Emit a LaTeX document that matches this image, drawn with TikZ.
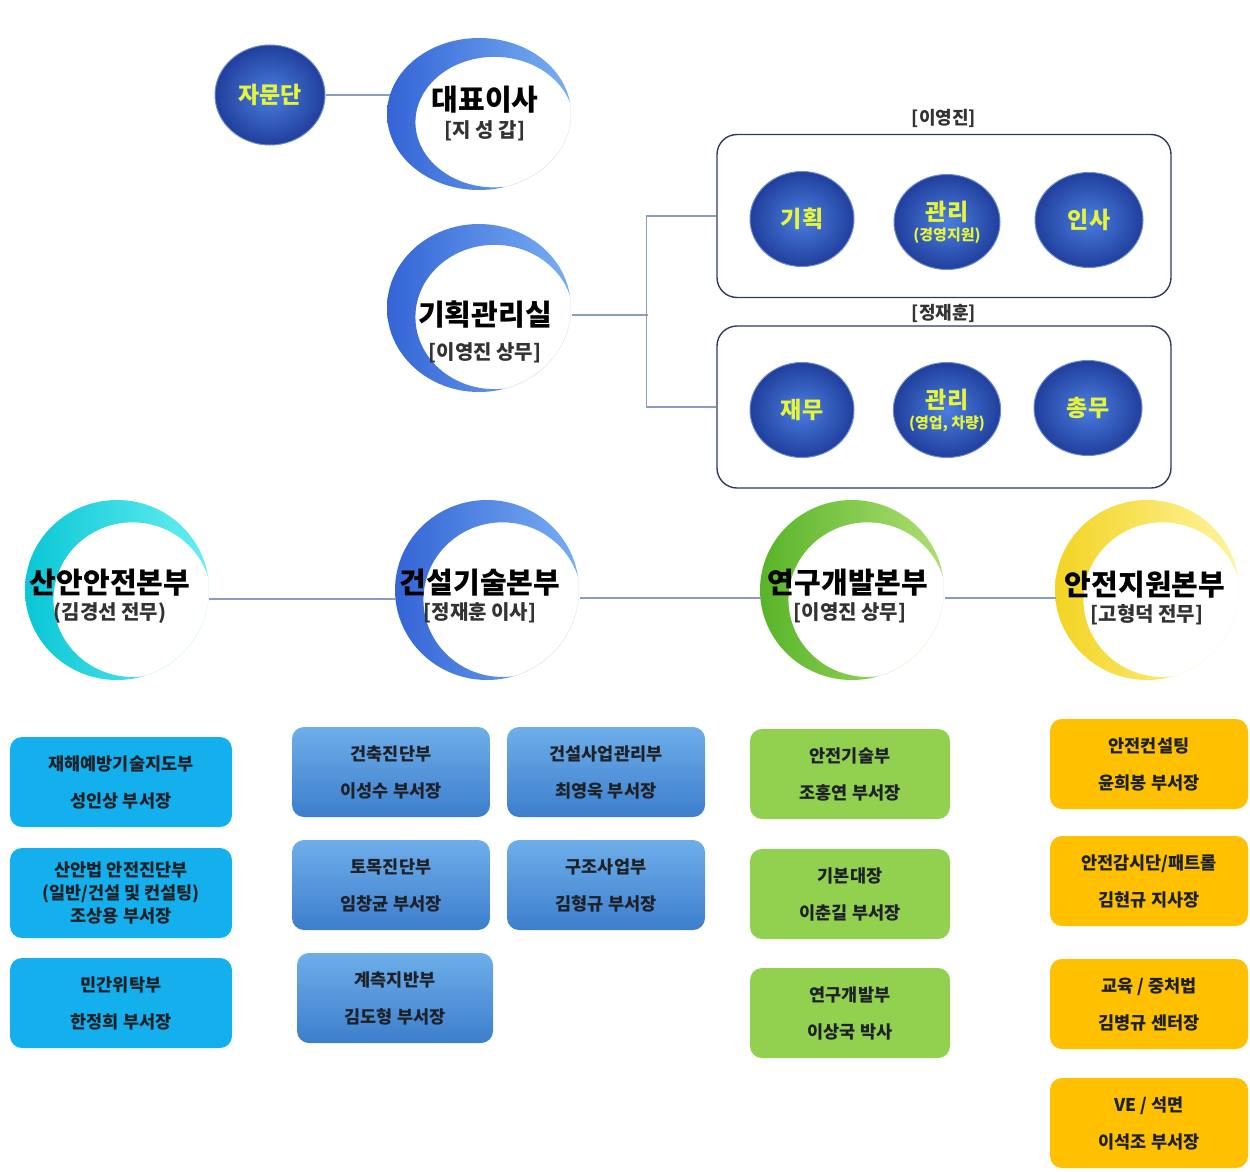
\documentclass[tikz,border=0pt]{standalone}
\usepackage{fontspec}
\setmainfont{Noto Sans CJK KR}
\usetikzlibrary{shapes.geometric}
\definecolor{sphIn}{HTML}{4A7EE0}
\definecolor{sphOut}{HTML}{213F9C}
\definecolor{sphRim}{HTML}{6A88D8}
\definecolor{sphText}{HTML}{E6F53C}
\definecolor{connC}{HTML}{8C9CC0}
\definecolor{grpC}{HTML}{2E3A66}
\definecolor{txtDark}{HTML}{1E2228}
\definecolor{cyanBox}{HTML}{14B0EE}
\definecolor{blueTop}{HTML}{6EAEEA}
\definecolor{blueBot}{HTML}{3C7ECC}
\definecolor{greenBox}{HTML}{92D050}
\definecolor{orangeBox}{HTML}{FFC000}
\definecolor{mBlueA}{HTML}{3464D6}
\definecolor{mBlueB}{HTML}{78B0F2}
\definecolor{mCyanA}{HTML}{0AC6D6}
\definecolor{mCyanB}{HTML}{6AF0F2}
\definecolor{mGreenA}{HTML}{58B428}
\definecolor{mGreenB}{HTML}{B0E074}
\definecolor{mYelA}{HTML}{F2D422}
\definecolor{mYelB}{HTML}{FFF5A0}
\newcommand{\sphsubfont}{\fontsize{15}{17}\selectfont}
\newcommand{\moonshape}[6]{%
  \begin{scope}[shift={(#1,#2)},xscale=#3,yscale=#4]
    \begin{scope}
      \clip (0,0) circle (1);
      \shade[even odd rule,left color=#5,right color=#6] (0,0) circle (1) (0.168,0.107) circle (0.859);
    \end{scope}
  \end{scope}}
\begin{document}
\begin{tikzpicture}[x=1pt,y=-1pt,
  sphere/.style={ellipse,inner sep=0pt,minimum width=106,minimum height=96,
    inner color=sphIn,outer color=sphOut,draw=sphRim,line width=1pt,text=sphText,
    font=\fontsize{23}{25}\selectfont\bfseries,align=center},
  ttl/.style={font=\fontsize{29}{32}\selectfont\bfseries,text=black,inner sep=0pt},
  subttl/.style={font=\fontsize{20}{22}\selectfont\bfseries,text=black!80,inner sep=0pt},
  conn/.style={draw=connC,line width=1.3pt},
  grpbox/.style={draw=grpC,line width=1.4pt,rounded corners=20,minimum width=454},
  grplbl/.style={font=\fontsize{18}{20}\selectfont\bfseries,text=black!80},
  unit/.style={rounded corners=12,minimum width=220,minimum height=90,align=center,inner sep=0pt,
    font=\fontsize{17.5}{37}\selectfont\bfseries,text=txtDark},
  cyanU/.style={unit,fill=cyanBox,minimum width=222},
  blueU/.style={unit,top color=blueTop,bottom color=blueBot,minimum width=198},
  greenU/.style={unit,fill=greenBox,minimum width=200},
  orangeU/.style={unit,fill=orangeBox,minimum width=198}
]
\useasboundingbox (0,0) rectangle (1250,1172);
\fill[white] (0,0) rectangle (1250,1172);

% ---- crescents ----
\moonshape{479}{114}{92}{76}{mBlueA}{mBlueB}
\moonshape{479}{308}{92}{84}{mBlueA}{mBlueB}
\moonshape{117}{590}{92}{90}{mCyanA}{mCyanB}
\moonshape{487}{590}{92}{90}{mBlueA}{mBlueB}
\moonshape{852}{590}{92}{90}{mGreenA}{mGreenB}
\moonshape{1147}{590}{92}{90}{mYelA}{mYelB}

% ---- top: CEO and advisors ----
\node[sphere,minimum width=110,minimum height=100] (jamun) at (270,95) {자문단};
\coordinate (ceoL) at (390,95);
\node[ttl] (ceo) at (485,100) {대표이사};
\node[subttl] (ceoS) at (485,131) {[지 성 갑]};
\draw[conn] (jamun.east) -- (ceoL);

% ---- planning office ----
\node[ttl] (plan) at (485,315) {기획관리실};
\node[subttl] (planS) at (485,353) {[이영진 상무]};
\coordinate (planR) at (572,315);
\coordinate (planJ) at (648,315);

\node[grpbox,minimum height=163] (grpA) at (944,216) {};
\node[grpbox,minimum height=162] (grpB) at (944,407) {};
\node[grplbl] (lblA) at (944,118) {[이영진]};
\node[grplbl] (lblB) at (944,313) {[정재훈]};
\draw[conn] (planR) -- (planJ);
\draw[conn] (grpA.west) -- ++(-70,0) |- (grpB.west);

\node[sphere,minimum width=104,minimum height=95] (s1) at (802,219) {기획};
\node[sphere,minimum width=106,minimum height=95] (s2) at (947,222) {관리\\[-5pt]{\sphsubfont(경영지원)}};
\node[sphere,minimum width=108,minimum height=95] (s3) at (1089,220) {인사};
\node[sphere,minimum width=104,minimum height=95] (s4) at (802,410) {재무};
\node[sphere,minimum width=106,minimum height=95] (s5) at (947,410) {관리\\[-5pt]{\sphsubfont(영업, 차량)}};
\node[sphere,minimum width=108,minimum height=95] (s6) at (1088,408) {총무};

% ---- divisions ----
\node[ttl] (d1) at (110,583) {산안안전본부};
\node[subttl] (d1s) at (110,613) {(김경선 전무)};
\node[ttl] (d2) at (480,583) {건설기술본부};
\node[subttl] (d2s) at (480,613) {[정재훈 이사]};
\node[ttl] (d3) at (848,583) {연구개발본부};
\node[subttl] (d3s) at (850,613) {[이영진 상무]};
\node[ttl] (d4) at (1145,585) {안전지원본부};
\node[subttl] (d4s) at (1147,615) {[고형덕 전무]};
\coordinate (d1R) at (209,599);
\coordinate (d2L) at (396,599);
\coordinate (d2R) at (580,598);
\coordinate (d3L) at (761,598);
\coordinate (d3R) at (945,598);
\coordinate (d4L) at (1056,598);
\draw[conn] (d1R) -- (d2L);
\draw[conn] (d2R) -- (d3L);
\draw[conn] (d3R) -- (d4L);

% ---- units ----
\node[cyanU] (c1) at (121,782) {재해예방기술지도부\\성인상 부서장};
\node[cyanU,font=\fontsize{17.5}{23}\selectfont\bfseries] (c2) at (121,893) {산안법 안전진단부\\(일반/건설 및 컨설팅)\\조상용 부서장};
\node[cyanU] (c3) at (121,1003) {민간위탁부\\한정희 부서장};

\node[blueU] (b1) at (391,772) {건축진단부\\이성수 부서장};
\node[blueU] (b2) at (606,772) {건설사업관리부\\최영욱 부서장};
\node[blueU] (b3) at (391,885) {토목진단부\\임창균 부서장};
\node[blueU] (b4) at (606,885) {구조사업부\\김형규 부서장};
\node[blueU,minimum width=196] (b5) at (395,998) {계측지반부\\김도형 부서장};

\node[greenU] (g1) at (850,774) {안전기술부\\조홍연 부서장};
\node[greenU] (g2) at (850,894) {기본대장\\이춘길 부서장};
\node[greenU] (g3) at (850,1013) {연구개발부\\이상국 박사};

\node[orangeU] (o1) at (1149,764) {안전컨설팅\\윤희봉 부서장};
\node[orangeU] (o2) at (1149,881) {안전감시단/패트롤\\김현규 지사장};
\node[orangeU] (o3) at (1149,1004) {교육 / 중처법\\김병규 센터장};
\node[orangeU] (o4) at (1149,1123) {VE / 석면\\이석조 부서장};
\end{tikzpicture}
\end{document}
